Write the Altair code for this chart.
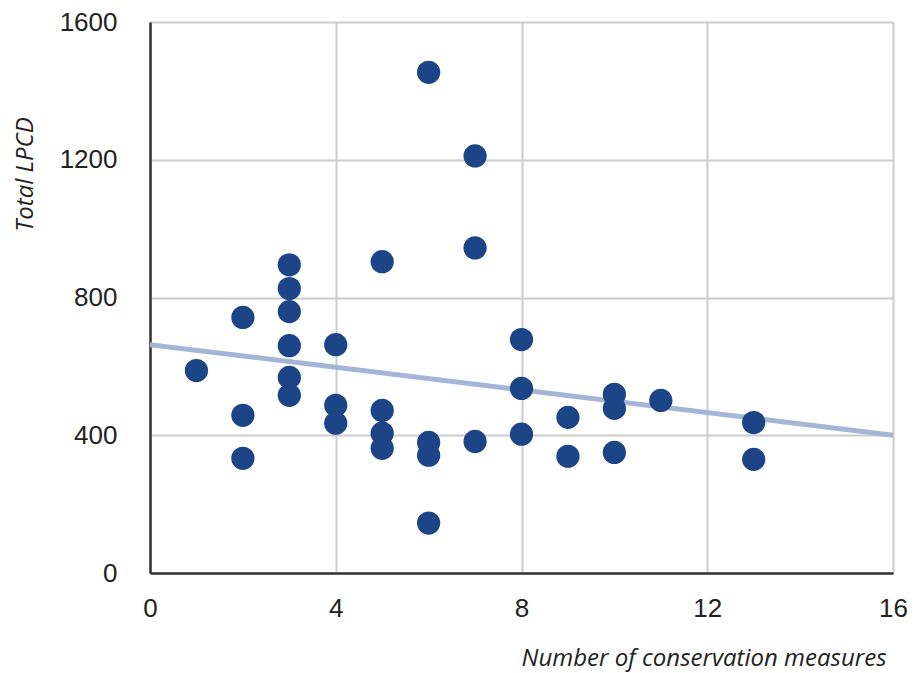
import altair as alt
import pandas as pd

# Number of conservation measures (x) and Total LPCD (y)
measures = [1, 2, 2, 2, 3, 3, 3, 3, 3, 3, 4, 4, 4, 5, 5, 5, 5, 6, 6, 6, 6,
            7, 7, 7, 8, 8, 8, 9, 9, 10, 10, 10, 11, 13, 13]
lpcd = [588, 742, 458, 333, 895, 826, 759, 660, 568, 516, 663, 487, 435,
        904, 472, 406, 362, 1454, 379, 342, 145, 1211, 944, 382, 678, 536,
        403, 452, 339, 519, 478, 350, 501, 437, 330]
# Trendline end values
trend_x = [0, 16]
trend_y = [663, 400]
x_ticks = [0, 4, 8, 12, 16]
y_ticks = [0, 400, 800, 1200, 1600]

df = pd.DataFrame({"x": measures, "y": lpcd})
df_trend = pd.DataFrame({"x": trend_x, "y": trend_y})

x_enc = alt.X(
    "x:Q",
    scale=alt.Scale(domain=[0, 16], nice=False, zero=False),
    axis=alt.Axis(
        values=x_ticks,
        format="d",
        labelFlush=False,
        labelOverlap=False,
        title="Number of conservation measures",
        titleX=736, titleY=92, titleAlign="right", titleBaseline="alphabetic",
        labelPadding=22,
    ),
)
y_enc = alt.Y(
    "y:Q",
    scale=alt.Scale(domain=[0, 1600], nice=False),
    axis=alt.Axis(
        values=y_ticks,
        format="d",
        labelFlush=False,
        labelOverlap=False,
        title="Total LPCD",
        titleX=-118, titleY=152, titleAlign="center", titleBaseline="alphabetic",
        titleAngle=270,
        labelPadding=33,
    ),
)

trend = alt.Chart(df_trend).mark_line(
    color="#a4b5d5", strokeWidth=5
).encode(x=x_enc, y=y_enc)

points = alt.Chart(df).mark_circle(size=540, color="#1c4587", opacity=1).encode(
    x=x_enc, y=y_enc
)

chart = (
    alt.layer(trend, points)
    .properties(
        width=743,
        height=551,
        autosize=alt.AutoSizeParams(type="none"),
        padding={"left": 142, "top": 14, "right": 15, "bottom": 100},
    )
    .configure_view(stroke=None)
    .configure_axis(
        grid=True,
        gridColor="#cccccc",
        gridWidth=2,
        domainColor="#333333",
        domainWidth=2.5,
        ticks=False,
        labelFont="Liberation Sans",
        labelFontSize=26,
        labelColor="#222222",
        titleFont="Open Sans",
        titleFontStyle="italic",
        titleFontWeight="normal",
        titleFontSize=24,
        titleColor="#222222",
    )
)

chart.save("out.html", embed_options={"renderer": "svg", "actions": False})
